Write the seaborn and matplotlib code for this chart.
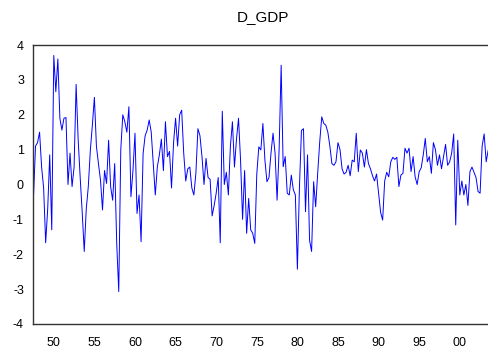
import numpy as np
import pandas as pd
import matplotlib
matplotlib.use("Agg")
import matplotlib.pyplot as plt
import seaborn as sns

# Quarterly first difference of GDP, starting 1947Q3
start_year = 1947.5
d_gdp = [
    -0.35, 1.10, 1.20, 1.50, 0.50, -0.10, -1.67, -0.70, 0.85, -1.30,
    3.70, 2.66, 3.60, 1.90, 1.56, 1.90, 1.92, 0.00, 0.90, -0.06,
    0.50, 2.87, 1.30, 0.20, -0.80, -1.92, -0.70, -0.06, 0.98, 1.70,
    2.50, 1.10, 0.60, 0.13, -0.73, 0.40, 0.03, 1.27, -0.06, -0.45,
    0.60, -1.69, -3.07, 1.00, 2.00, 1.80, 1.50, 2.23, -0.35, 0.40,
    1.47, -0.83, -0.30, -1.64, 0.89, 1.40, 1.56, 1.85, 1.50, 0.60,
    -0.30, 0.50, 0.85, 1.30, 0.40, 1.80, 0.80, 0.95, -0.10, 1.20,
    1.90, 1.10, 2.00, 2.13, 0.90, 0.10, 0.45, 0.50, -0.10, -0.30,
    0.32, 1.60, 1.40, 0.80, 0.00, 0.75, 0.20, 0.15, -0.90, -0.60,
    -0.25, 0.20, -1.67, 2.10, 0.00, 0.35, -0.30, 1.10, 1.80, 0.50,
    1.30, 1.90, 0.70, -1.00, 0.40, -1.40, -0.40, -1.30, -1.40, -1.69,
    0.30, 1.08, 0.99, 1.75, 0.70, 0.08, 0.20, 0.90, 1.47, 0.90,
    -0.45, 1.00, 3.42, 0.51, 0.80, -0.25, -0.30, 0.27, -0.15, -0.30,
    -2.43, -0.10, 1.55, 1.60, -0.78, 0.85, -1.60, -1.92, 0.08, -0.64,
    0.32, 1.22, 1.94, 1.75, 1.70, 1.50, 1.10, 0.60, 0.55, 0.65,
    1.20, 1.00, 0.45, 0.30, 0.35, 0.55, 0.25, 0.70, 0.65, 1.47,
    0.37, 0.99, 0.90, 0.50, 1.00, 0.60, 0.45, 0.25, 0.10, 0.30,
    -0.25, -0.80, -1.02, 0.10, 0.35, 0.22, 0.65, 0.78, 0.72, 0.78,
    -0.06, 0.27, 0.32, 1.04, 0.90, 1.04, 0.37, 0.80, 0.22, 0.00,
    0.37, 0.48, 0.85, 1.32, 0.65, 0.80, 0.32, 1.20, 1.00, 0.55,
    0.85, 0.45, 0.80, 1.15, 0.55, 0.65, 0.90, 1.45, -1.16, 1.27,
    -0.30, 0.10, -0.30, 0.00, -0.60, 0.37, 0.50, 0.35, 0.20, -0.20,
    -0.25, 1.10, 1.45, 0.65, 0.99,
]
y_ticks = [-4, -3, -2, -1, 0, 1, 2, 3, 4]
x_major_years = [1950, 1955, 1960, 1965, 1970, 1975, 1980, 1985, 1990, 1995, 2000]
x_major_labels = ["50", "55", "60", "65", "70", "75", "80", "85", "90", "95", "00"]
x_minor_years = list(range(1948, 2005))

df = pd.DataFrame({
    "date": start_year + 0.25 * np.arange(len(d_gdp)),
    "D_GDP": d_gdp,
})

sns.set_style("white")
plt.rcParams["font.family"] = ["Liberation Sans", "DejaVu Sans"]

fig = plt.figure(figsize=(4.89, 3.52), dpi=100)
ax = fig.add_axes([33 / 489, 28 / 352, 460 / 489, 279 / 352])

sns.lineplot(data=df, x="date", y="D_GDP", color="#0000ff", linewidth=0.7, ax=ax)

ax.set_xlim(1947.44, 2004.09)
ax.set_ylim(-4, 4)
ax.set_yticks(y_ticks)
ax.set_yticklabels([str(v) for v in y_ticks])
ax.set_xticks(x_major_years)
ax.set_xticklabels(x_major_labels)
ax.set_xticks(x_minor_years, minor=True)
ax.set_xlabel("")
ax.set_ylabel("")

for side in ["left", "bottom", "top", "right"]:
    ax.spines[side].set_visible(True)
    ax.spines[side].set_color("#333333")
    ax.spines[side].set_linewidth(1.0)

ax.tick_params(axis="both", which="major", direction="out", length=3.5,
               width=0.8, color="#333333", labelsize=9, labelcolor="black")
ax.tick_params(axis="x", which="minor", direction="out", length=2.5,
               width=0.8, color="#333333")
ax.tick_params(axis="x", which="major", pad=6)
ax.tick_params(axis="y", which="major", pad=3)
ax.tick_params(top=False, right=False, which="both")

fig.text(263 / 489, 1 - 17 / 352, "D_GDP", ha="center", va="center",
         fontsize=11, color="black")

fig.savefig("out.png", dpi=100, facecolor="white")
